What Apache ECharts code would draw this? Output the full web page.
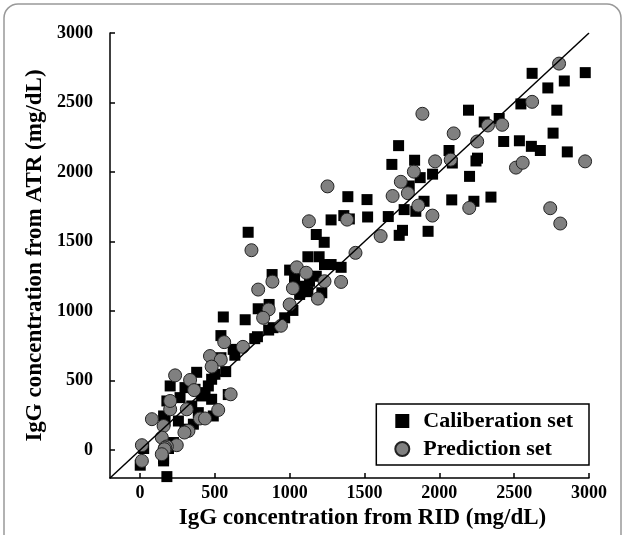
<!DOCTYPE html>
<html>
<head>
<meta charset="utf-8">
<script src="https://cdn.jsdelivr.net/npm/echarts@6/dist/echarts.min.js"></script>
<style>
html, body { margin: 0; padding: 0; background: #fff; }
#chart { width: 627px; height: 535px; }
</style>
</head>
<body>
<div id="chart"></div>
<script>
// values, [RID, ATR] in mg/dL
var calibration = [
	[2895, 3015], [2975, 2715], [2620, 2710], [2835, 2655], [2725, 2605],
	[2545, 2490], [2785, 2445], [2195, 2445], [2300, 2360], [2400, 2385],
	[2760, 2280], [2430, 2220], [2535, 2225], [2615, 2185], [2675, 2155],
	[2855, 2145], [2345, 1820], [1728, 2190], [2065, 2155], [2255, 2100],
	[2245, 2080], [1835, 2085], [2087, 2065], [1683, 2055], [1955, 1985],
	[1872, 1960], [2202, 1969], [1799, 1900], [1898, 1790], [2083, 1800],
	[2231, 1790], [1765, 1730], [1843, 1718], [1659, 1680], [1389, 1823],
	[1517, 1802], [1277, 1656], [1362, 1687], [1399, 1663], [1521, 1677],
	[1732, 1545], [1754, 1581], [1925, 1574], [1178, 1551], [1231, 1495],
	[1122, 1391], [1197, 1391], [1277, 1335], [1344, 1315], [1233, 1335],
	[1000, 1295], [883, 1263], [1033, 1235], [1133, 1215], [1178, 1251],
	[1100, 1179], [1122, 1140], [1215, 1132], [1033, 1192], [1067, 1120],
	[723, 1567], [863, 1048], [790, 1017], [1022, 1005], [557, 958],
	[703, 938], [967, 952], [889, 881], [860, 864], [541, 824],
	[767, 802], [785, 816], [623, 725], [634, 683], [541, 665],
	[573, 565], [379, 560], [501, 546], [479, 510], [202, 462],
	[457, 462], [435, 414], [368, 438], [301, 450], [590, 400],
	[412, 390], [479, 366], [180, 354], [268, 378], [346, 318],
	[390, 270], [490, 246], [158, 246], [168, 210], [257, 210],
	[301, 151], [357, 187], [224, 55], [191, 12], [25, 12],
	[2, -108], [158, -60], [158, -77], [180, -190]
];
var prediction = [
	[2800, 2780], [2620, 2505], [2325, 2335], [2420, 2340], [1887, 2419],
	[2096, 2278], [2253, 2220], [2974, 2077], [2512, 2032], [2557, 2067],
	[2741, 1740], [2808, 1630], [1972, 2077], [2076, 2089], [1830, 2003],
	[1743, 1930], [1790, 1848], [1688, 1828], [1860, 1759], [2200, 1742],
	[1954, 1687], [1253, 1897], [1384, 1658], [1129, 1646], [1608, 1540],
	[1440, 1419], [1048, 1315], [1111, 1276], [885, 1212], [1233, 1215],
	[1344, 1210], [1022, 1165], [790, 1155], [1189, 1090], [745, 1438],
	[1000, 1048], [860, 1012], [823, 952], [942, 895], [563, 777],
	[688, 743], [468, 677], [540, 650], [479, 601], [235, 538],
	[335, 505], [362, 432], [606, 402], [202, 294], [313, 294],
	[523, 289], [401, 228], [435, 228], [80, 223], [158, 174],
	[324, 139], [297, 127], [146, 91], [246, 36], [180, 27],
	[168, 19], [164, 7], [13, 36], [13, -77], [146, -29],
	[202, 354]
];
var idealLine = [[-200, -200], [3000, 3000]];
var tickValues = [0, 500, 1000, 1500, 2000, 2500, 3000];

var font = "Liberation Serif";
var chart = echarts.init(document.getElementById("chart"));

function makeAxis(name, gap, labelMargin, namePad) {
	return {
		type: "value",
		min: -200,
		max: 3000,
		name: name,
		nameLocation: "middle",
		nameGap: gap,
		nameTextStyle: { fontFamily: font, fontWeight: "bold", fontSize: 23, color: "#000", padding: namePad },
		axisLine: { show: true, onZero: false, lineStyle: { color: "#000", width: 1.5 } },
		axisTick: { show: true, inside: true, length: 5, customValues: tickValues, lineStyle: { color: "#000", width: 1.5 } },
		axisLabel: {
			customValues: tickValues,
			margin: labelMargin,
			formatter: function (v) { return String(v); },
			fontFamily: font, fontWeight: "bold", fontSize: 18, color: "#000"
		},
		splitLine: { show: false }
	};
}

var option = {
	animation: false,
	grid: { left: 110, right: 38, top: 33, bottom: 57 },
	xAxis: makeAxis("IgG concentration from RID (mg/dL)", 29, 6, [0, 0, 0, 26]),
	yAxis: makeAxis("IgG concentration from ATR (mg/dL)", 51, 17, [0, 0, 0, 0]),
	legend: {
		data: ["Caliberation set", "Prediction set"],
		orient: "vertical",
		right: 38,
		top: 404,
		padding: [6, 16, 5, 18],
		itemGap: 6,
		itemWidth: 14,
		itemHeight: 14,
		borderColor: "#000",
		borderWidth: 1.5,
		textStyle: { fontFamily: font, fontWeight: "bold", fontSize: 22, color: "#000", padding: [0, 0, 0, 9] }
	},
	graphic: [{
		type: "rect",
		silent: true,
		shape: { x: 4, y: 4, width: 617, height: 570, r: 14 },
		style: { fill: "none", stroke: "#999", lineWidth: 1.5 }
	}],
	series: [
		{
			name: "Caliberation set",
			type: "scatter",
			symbol: "rect",
			symbolSize: 11,
			itemStyle: { color: "#000", opacity: 1 },
			data: calibration
		},
		{
			name: "Prediction set",
			type: "scatter",
			symbol: "circle",
			symbolSize: 13,
			itemStyle: { color: "#808080", borderColor: "#222", borderWidth: 1, opacity: 1 },
			data: prediction
		},
		{
			type: "line",
			symbol: "none",
			z: 5,
			lineStyle: { color: "#000", width: 1.5 },
			data: idealLine
		}
	]
};
chart.setOption(option);
</script>
</body>
</html>
